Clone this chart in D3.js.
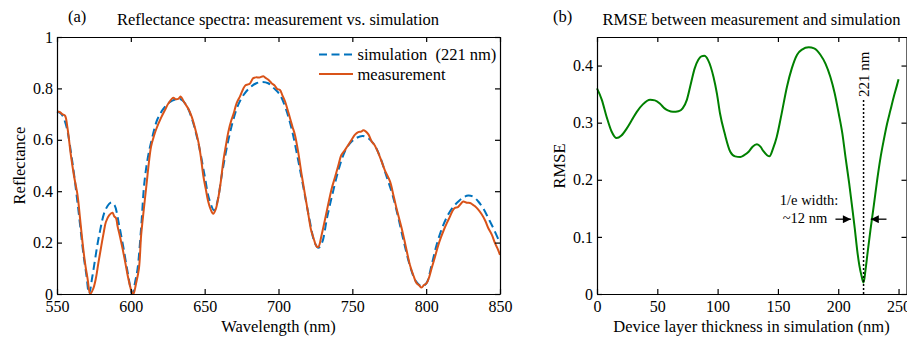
<!DOCTYPE html>
<html>
<head>
<meta charset="utf-8">
<script src="https://cdn.jsdelivr.net/npm/d3@7"></script>
<style>
body { margin: 0; background: #fff; }
svg { display: block; }
text { font-family: "Liberation Serif", "DejaVu Serif", serif; fill: #000; }
.axis text { font-size: 16px; }
.axis line, .axis path { stroke: #000; stroke-width: 1.2; }
</style>
</head>
<body>
<div id="chart"></div>
<script>
// panel (a) data: simulated and measured reflectance
const simWavelength = [550, 553, 556, 560, 564, 568, 570, 571.7, 574, 578.6, 583, 586.8, 589, 592, 595, 598, 601, 603, 604.6, 607, 609.1, 611.5, 614.1, 618, 622, 626, 630, 634, 638, 642, 646, 650, 653, 656.5, 659, 661.5, 665, 669, 673, 677, 681, 685, 689, 693, 697, 701, 705, 709, 713, 717, 721, 724.5, 727, 729.5, 733, 737, 741, 745, 749, 753, 757, 761, 765, 769, 773, 777, 781, 785, 789, 793, 797, 800, 803.7, 807, 811, 815, 818.5, 821.8, 825, 828.5, 832, 835.3, 839, 842.1, 846, 850]
const simReflectance = [0.71, 0.70, 0.66, 0.53, 0.35, 0.15, 0.07, 0.0, 0.07, 0.23, 0.33, 0.356, 0.345, 0.27, 0.18, 0.08, 0.0, 0.05, 0.10, 0.26, 0.43, 0.53, 0.60, 0.68, 0.72, 0.745, 0.757, 0.757, 0.73, 0.67, 0.58, 0.46, 0.37, 0.325, 0.37, 0.46, 0.57, 0.67, 0.74, 0.78, 0.805, 0.82, 0.825, 0.82, 0.80, 0.775, 0.72, 0.64, 0.53, 0.41, 0.29, 0.20, 0.18, 0.20, 0.30, 0.40, 0.49, 0.555, 0.59, 0.608, 0.615, 0.605, 0.58, 0.53, 0.46, 0.39, 0.30, 0.20, 0.11, 0.05, 0.03, 0.04, 0.113, 0.19, 0.26, 0.31, 0.34, 0.36, 0.375, 0.383, 0.378, 0.36, 0.33, 0.295, 0.25, 0.198]

const measWavelength = [550, 552, 553.5, 555.4, 557, 559.4, 561.5, 563.9, 565.5, 567.3, 569, 570.7, 572.5, 574.5, 576.3, 578, 579.7, 581.5, 583.1, 585.4, 587.6, 588.8, 590, 591, 592.8, 594.4, 596, 597.8, 599.5, 600.5, 601.7, 603.5, 605.5, 607, 608.8, 610.7, 612.2, 613.7, 615.4, 617.1, 620.5, 623.1, 625.5, 628.7, 630.4, 632.1, 633.9, 635.5, 636.6, 639, 641.2, 643.5, 645.7, 647.5, 649, 650.7, 652.4, 654, 655.8, 657.5, 659.2, 661, 662.6, 664.3, 666, 668, 669.5, 671.6, 674, 677.3, 679, 680.5, 682.9, 685, 687, 689.7, 691.5, 693.5, 695.3, 697.6, 699, 701, 702.5, 704.4, 706, 708, 709.5, 711.1, 713.4, 715.7, 718, 720.2, 722, 723.6, 725.8, 727, 729.2, 731.5, 733.7, 736, 738.3, 740.5, 742.5, 745, 747, 749.5, 751.8, 754, 756, 757.4, 759, 761, 763.1, 765, 767.5, 769.8, 772.1, 775.5, 778, 780.5, 783.4, 786, 789, 791.5, 793.5, 795, 796.9, 798.5, 800.3, 802, 803.7, 806, 808.2, 810, 812, 813.9, 816, 818, 819.5, 821.5, 823, 825.1, 827.5, 829.7, 831.5, 833.1, 835, 837.6, 840, 842.1, 844.5, 846.6, 848.5, 850]
const measReflectance = [0.71, 0.708, 0.70, 0.694, 0.65, 0.54, 0.46, 0.385, 0.30, 0.20, 0.12, 0.06, 0.0, 0.02, 0.06, 0.12, 0.177, 0.235, 0.28, 0.307, 0.316, 0.302, 0.295, 0.264, 0.22, 0.177, 0.13, 0.074, 0.03, 0.01, 0.0, 0.04, 0.10, 0.23, 0.33, 0.43, 0.51, 0.574, 0.61, 0.64, 0.686, 0.716, 0.742, 0.764, 0.758, 0.759, 0.768, 0.752, 0.742, 0.72, 0.69, 0.645, 0.593, 0.53, 0.463, 0.41, 0.36, 0.33, 0.312, 0.33, 0.373, 0.44, 0.516, 0.575, 0.63, 0.675, 0.70, 0.742, 0.77, 0.81, 0.815, 0.818, 0.84, 0.843, 0.842, 0.847, 0.84, 0.832, 0.82, 0.81, 0.798, 0.794, 0.775, 0.75, 0.72, 0.68, 0.65, 0.62, 0.55, 0.463, 0.385, 0.31, 0.25, 0.22, 0.185, 0.183, 0.23, 0.29, 0.35, 0.41, 0.455, 0.50, 0.54, 0.56, 0.578, 0.60, 0.62, 0.63, 0.632, 0.637, 0.633, 0.62, 0.593, 0.58, 0.55, 0.516, 0.48, 0.438, 0.38, 0.32, 0.256, 0.19, 0.113, 0.07, 0.042, 0.035, 0.025, 0.035, 0.042, 0.065, 0.10, 0.145, 0.19, 0.22, 0.25, 0.275, 0.30, 0.325, 0.335, 0.338, 0.348, 0.36, 0.355, 0.354, 0.348, 0.341, 0.33, 0.31, 0.285, 0.256, 0.23, 0.198, 0.175, 0.152]

// panel (b) data: RMSE vs simulated device layer thickness
const thickness = [0, 4, 8, 12, 16.3, 20, 24.7, 29, 33, 38, 44, 48, 52.3, 56, 59.2, 63, 67.5, 71, 74.5, 78, 81, 84, 86.5, 89, 92, 96.6, 99.5, 102, 106, 110.5, 114.5, 118.8, 122, 125.7, 129, 132.6, 135.5, 138, 141, 143, 146, 149, 153, 157.5, 161.5, 165.9, 170, 175.5, 180, 185.2, 189.5, 193.5, 197, 200.4, 203.5, 206, 209, 211.5, 213.7, 215.7, 217.5, 219.5, 221, 222.6, 224.5, 226.7, 229.5, 232.3, 235, 237.8, 240.5, 243.3, 246, 248.5, 250]
const rmse = [0.36, 0.34, 0.31, 0.285, 0.273, 0.277, 0.29, 0.305, 0.319, 0.332, 0.34, 0.339, 0.333, 0.325, 0.321, 0.319, 0.32, 0.325, 0.34, 0.37, 0.395, 0.41, 0.416, 0.417, 0.41, 0.38, 0.35, 0.316, 0.28, 0.249, 0.241, 0.24, 0.243, 0.249, 0.258, 0.262, 0.258, 0.25, 0.243, 0.241, 0.255, 0.275, 0.315, 0.363, 0.395, 0.419, 0.428, 0.432, 0.43, 0.419, 0.403, 0.38, 0.352, 0.316, 0.28, 0.24, 0.195, 0.153, 0.115, 0.077, 0.05, 0.03, 0.02, 0.042, 0.075, 0.112, 0.155, 0.2, 0.238, 0.27, 0.298, 0.322, 0.345, 0.364, 0.376]

const waveTicks = [550, 600, 650, 700, 750, 800, 850]
const reflTicks = [0, 0.2, 0.4, 0.6, 0.8, 1]
const thickTicks = [0, 50, 100, 150, 200, 250]
const rmseTicks = [0, 0.1, 0.2, 0.3, 0.4]

const bestThickness = 221
const arrowLevel = 0.131
const arrowLeft = [197.7, 210.5]
const arrowRight = [240, 227]

const width = 907, height = 339
const serif = '"Liberation Serif", "DejaVu Serif", serif'
const fmt = d3.format("~g")

const svg = d3.select("#chart").append("svg")
    .attr("width", width)
    .attr("height", height)
    .attr("font-family", serif)

svg.append("defs").append("marker")
    .attr("id", "head")
    .attr("viewBox", "0 0 10 10")
    .attr("refX", 10).attr("refY", 5)
    .attr("markerWidth", 9).attr("markerHeight", 8)
    .attr("markerUnits", "userSpaceOnUse")
    .attr("orient", "auto")
    .append("path")
    .attr("d", "M0,0L10,5L0,10z")
    .attr("fill", "#000")

// draws box with inward ticks on all four sides
function drawFrame(xScale, yScale, xTicks, yTicks) {
    const [x0, x1] = xScale.range()
    const [y0, y1] = yScale.range()

    svg.append("g").attr("class", "axis")
        .attr("transform", `translate(0,${y0})`)
        .call(d3.axisBottom(xScale).tickValues(xTicks).tickFormat(fmt)
            .tickSizeInner(-5).tickSizeOuter(0).tickPadding(7))
        .attr("font-family", serif)
    svg.append("g").attr("class", "axis")
        .attr("transform", `translate(0,${y1})`)
        .call(d3.axisTop(xScale).tickValues(xTicks).tickFormat("")
            .tickSizeInner(-5).tickSizeOuter(0))
    svg.append("g").attr("class", "axis")
        .attr("transform", `translate(${x0},0)`)
        .call(d3.axisLeft(yScale).tickValues(yTicks).tickFormat(fmt)
            .tickSizeInner(-5).tickSizeOuter(0).tickPadding(4))
        .attr("font-family", serif)
    svg.append("g").attr("class", "axis")
        .attr("transform", `translate(${x1},0)`)
        .call(d3.axisRight(yScale).tickValues(yTicks).tickFormat("")
            .tickSizeInner(-5).tickSizeOuter(0))
}

function addText(x, y, str, size, anchor) {
    return svg.append("text")
        .attr("x", x).attr("y", y)
        .attr("font-size", size)
        .attr("text-anchor", anchor || "start")
        .text(str)
}

// ---- panel (a)
const xA = d3.scaleLinear().domain([550, 850]).range([57, 500])
const yA = d3.scaleLinear().domain([0, 1]).range([294, 37])

const lineA = (xs, ys) => d3.line()
    .x((d, i) => xA(xs[i]))
    .y((d, i) => yA(ys[i]))
    .curve(d3.curveCatmullRom.alpha(0.5))(xs)

svg.append("path")
    .attr("d", lineA(simWavelength, simReflectance))
    .attr("fill", "none")
    .attr("stroke", "#0072BD")
    .attr("stroke-width", 2)
    .attr("stroke-dasharray", "8,4.5")

svg.append("path")
    .attr("d", lineA(measWavelength, measReflectance))
    .attr("fill", "none")
    .attr("stroke", "#D95319")
    .attr("stroke-width", 2)

drawFrame(xA, yA, waveTicks, reflTicks)

addText(68, 21.5, "(a)", 16.5)
addText(278, 25, "Reflectance spectra: measurement vs. simulation", 16.5, "middle")
addText(278.5, 332, "Wavelength (nm)", 16.5, "middle")
svg.append("text")
    .attr("transform", "translate(25,165.5) rotate(-90)")
    .attr("font-size", 16.5)
    .attr("text-anchor", "middle")
    .text("Reflectance")

// legend
svg.append("line")
    .attr("x1", 319).attr("x2", 353).attr("y1", 54.5).attr("y2", 54.5)
    .attr("stroke", "#0072BD").attr("stroke-width", 2)
    .attr("stroke-dasharray", "8,4.5")
svg.append("line")
    .attr("x1", 319).attr("x2", 353).attr("y1", 74).attr("y2", 74)
    .attr("stroke", "#D95319").attr("stroke-width", 2)
addText(357.5, 60, "simulation  (221 nm)", 16.5).style("white-space", "pre")
addText(357.5, 79.5, "measurement", 16.5)

// ---- panel (b)
const xB = d3.scaleLinear().domain([0, 256.6]).range([597, 906.5])
const yB = d3.scaleLinear().domain([0, 0.45]).range([294, 37])

svg.append("path")
    .attr("d", d3.line()
        .x((d, i) => xB(thickness[i]))
        .y((d, i) => yB(rmse[i]))
        .curve(d3.curveMonotoneX)(thickness))
    .attr("fill", "none")
    .attr("stroke", "#008000")
    .attr("stroke-width", 2)

drawFrame(xB, yB, thickTicks, rmseTicks)

// marker of best fit
svg.append("line")
    .attr("x1", xB(bestThickness)).attr("x2", xB(bestThickness))
    .attr("y1", yB(0)).attr("y2", yB(0.34))
    .attr("stroke", "#000").attr("stroke-width", 1.5)
    .attr("stroke-dasharray", "2,2")
svg.append("text")
    .attr("transform", `translate(${xB(bestThickness) + 5},${yB(0.345)}) rotate(-90)`)
    .attr("font-size", 15)
    .text("221 nm")

svg.append("line")
    .attr("x1", xB(arrowLeft[0])).attr("x2", xB(arrowLeft[1]))
    .attr("y1", yB(arrowLevel)).attr("y2", yB(arrowLevel))
    .attr("stroke", "#000").attr("stroke-width", 1.3)
    .attr("marker-end", "url(#head)")
svg.append("line")
    .attr("x1", xB(arrowRight[0])).attr("x2", xB(arrowRight[1]))
    .attr("y1", yB(arrowLevel)).attr("y2", yB(arrowLevel))
    .attr("stroke", "#000").attr("stroke-width", 1.3)
    .attr("marker-end", "url(#head)")
addText(809, 205, "1/e width:", 14.5, "middle")
addText(805, 223, "~12 nm", 14.5, "middle")

addText(553, 21.5, "(b)", 16.5)
addText(751.5, 25, "RMSE between measurement and simulation", 16.5, "middle")
addText(751.5, 332, "Device layer thickness in simulation (nm)", 16.5, "middle")
svg.append("text")
    .attr("transform", "translate(565,166) rotate(-90)")
    .attr("font-size", 16.5)
    .attr("text-anchor", "middle")
    .text("RMSE")
</script>
</body>
</html>
